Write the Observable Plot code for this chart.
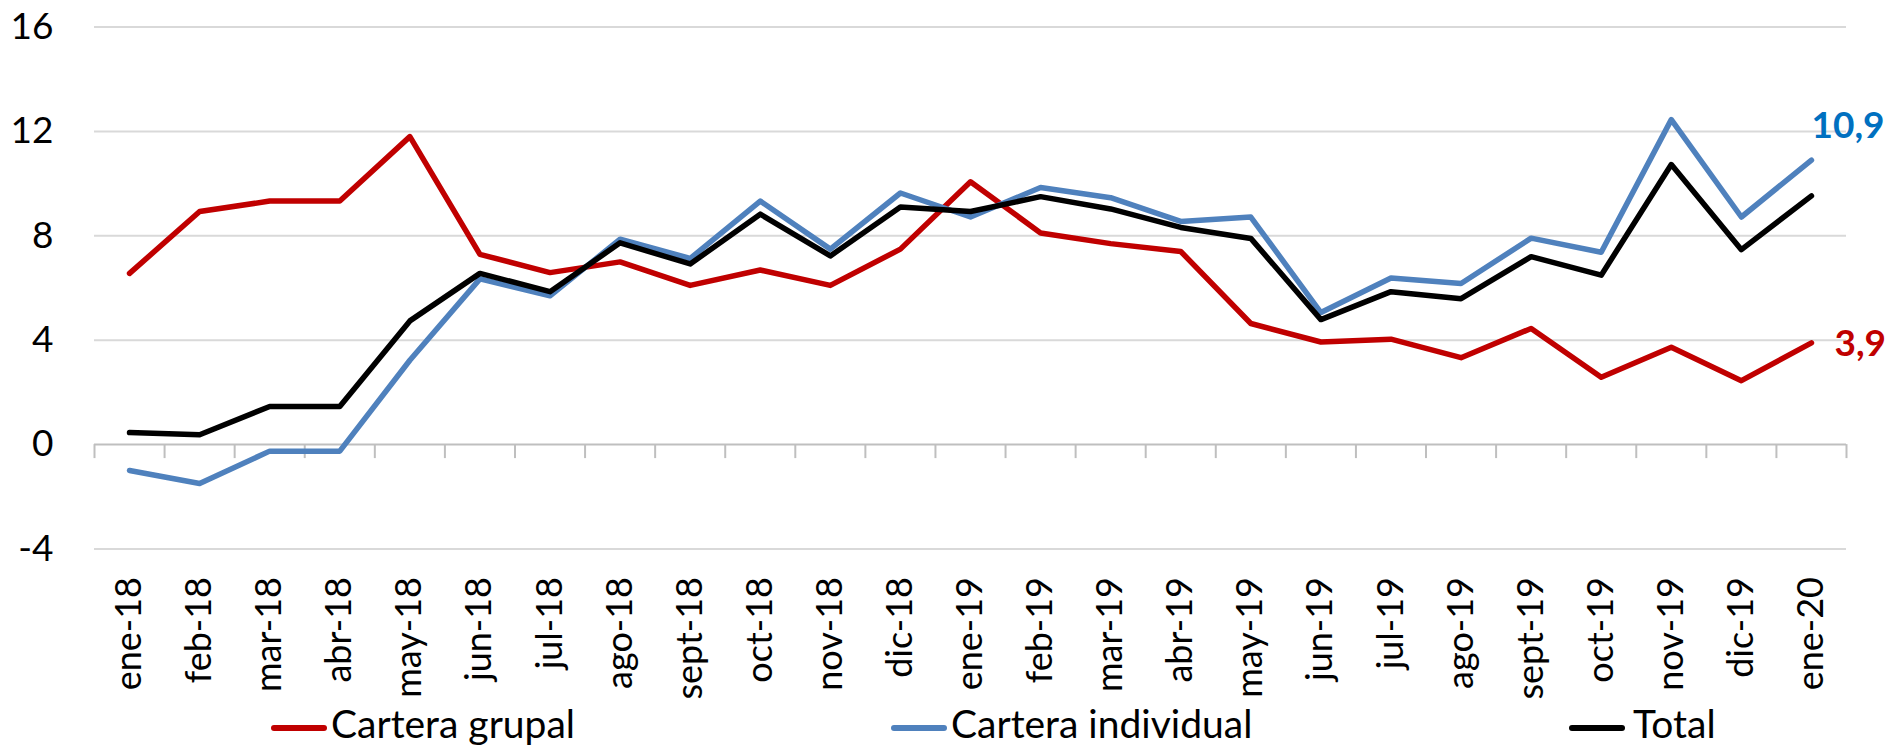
<!DOCTYPE html>
<html>
<head>
<meta charset="utf-8">
<script src="https://cdn.jsdelivr.net/npm/d3@7"></script>
<script src="https://cdn.jsdelivr.net/npm/@observablehq/plot@0.6"></script>
<style>
  html, body { margin: 0; padding: 0; background: #fff; overflow: hidden; }
  #wrap { position: relative; width: 1892px; height: 746px; font-family: Lato, sans-serif; }
  .sw { position: absolute; height: 6px; width: 56px; border-radius: 3px; top: 725px; }
  .lt { position: absolute; font-size: 39px; line-height: 1; top: 704px; color: #000; white-space: nowrap; }
</style>
</head>
<body>
<div id="wrap"></div>
<script>
const months = ["ene-18","feb-18","mar-18","abr-18","may-18","jun-18","jul-18","ago-18","sept-18","oct-18","nov-18","dic-18",
                "ene-19","feb-19","mar-19","abr-19","may-19","jun-19","jul-19","ago-19","sept-19","oct-19","nov-19","dic-19","ene-20"];
const grupal =     [6.56, 8.93, 9.33, 9.33, 11.80, 7.29, 6.59, 7.00, 6.10, 6.69, 6.10, 7.49,
                    10.07, 8.11, 7.70, 7.40, 4.64, 3.93, 4.04, 3.33, 4.45, 2.58, 3.73, 2.45, 3.9];
const individual = [-0.99, -1.49, -0.25, -0.25, 3.23, 6.35, 5.70, 7.87, 7.13, 9.33, 7.49, 9.64,
                    8.72, 9.85, 9.46, 8.55, 8.72, 5.06, 6.38, 6.17, 7.91, 7.37, 12.45, 8.72, 10.9];
const total =      [0.46, 0.38, 1.46, 1.46, 4.74, 6.56, 5.86, 7.73, 6.92, 8.83, 7.23, 9.10,
                    8.93, 9.50, 9.03, 8.32, 7.90, 4.79, 5.86, 5.59, 7.20, 6.49, 10.73, 7.47, 9.53];
const yTicks = [-4, 0, 4, 8, 12, 16];
const seriesNames = ["Cartera grupal", "Cartera individual", "Total"];
const seriesColors = ["#C00000", "#4F81BD", "#000000"];
const labelColors = ["#C00000", "#0070C0"];

const seriesValues = [grupal, individual, total];
const rows = [];
seriesNames.forEach((s, k) => seriesValues[k].forEach((v, i) => rows.push({i, month: months[i], value: v, series: s})));
const idx = months.map((d, i) => i);
const boundaries = months.map((d, i) => i - 0.5).concat([months.length - 0.5]);
const last = months.length - 1;
const fmt = v => v.toFixed(1).replace(".", ",");

const chart = Plot.plot({
  width: 1892,
  height: 700,
  marginLeft: 94,
  marginRight: 46,
  marginTop: 26.5,
  marginBottom: 151.5,
  style: {fontFamily: "Lato, sans-serif", fontSize: "36px", color: "#000", background: "#fff"},
  x: {type: "linear", domain: [-0.5, months.length - 0.5], label: null},
  y: {domain: [-4, 16], label: null},
  color: {domain: seriesNames, range: seriesColors},
  marks: [
    Plot.ruleY(yTicks.filter(d => d !== 0), {stroke: "#D9D9D9", strokeWidth: 2}),
    Plot.ruleY([0], {stroke: "#BFBFBF", strokeWidth: 2}),
    Plot.ruleX(boundaries, {y1: 0, y2: 0, insetBottom: -14, stroke: "#BFBFBF", strokeWidth: 2}),
    Plot.axisY({ticks: yTicks, tickSize: 0, tickPadding: 41, tickFormat: d => String(d), label: null, fontSize: 37}),
    Plot.axisX({ticks: idx, tickFormat: i => months[i], tickRotate: -90, tickSize: 0, tickPadding: 28, label: null, fontSize: 36}),
    Plot.line(rows, {x: "i", y: "value", z: "series", stroke: "series", strokeWidth: 5.5, strokeLinejoin: "round", strokeLinecap: "round"}),
    Plot.text([{i: last, v: individual[last]}], {x: "i", y: "v", text: d => fmt(d.v), fill: labelColors[1], fontWeight: "bold", fontSize: 37, textAnchor: "start", dy: -34}),
    Plot.text([{i: last, v: grupal[last]}], {x: "i", y: "v", text: d => fmt(d.v), fill: labelColors[0], fontWeight: "bold", fontSize: 37, textAnchor: "start", dx: 23, dy: 1})
  ]
});

const wrap = document.getElementById("wrap");
wrap.appendChild(chart);

const legendX = [[271, 331], [891, 951], [1569, 1633]];
seriesNames.forEach((s, k) => {
  const sw = document.createElement("div");
  sw.className = "sw";
  sw.style.left = legendX[k][0] + "px";
  sw.style.background = seriesColors[k];
  wrap.appendChild(sw);
  const t = document.createElement("div");
  t.className = "lt";
  t.style.left = legendX[k][1] + "px";
  t.textContent = s;
  wrap.appendChild(t);
});
</script>
</body>
</html>
